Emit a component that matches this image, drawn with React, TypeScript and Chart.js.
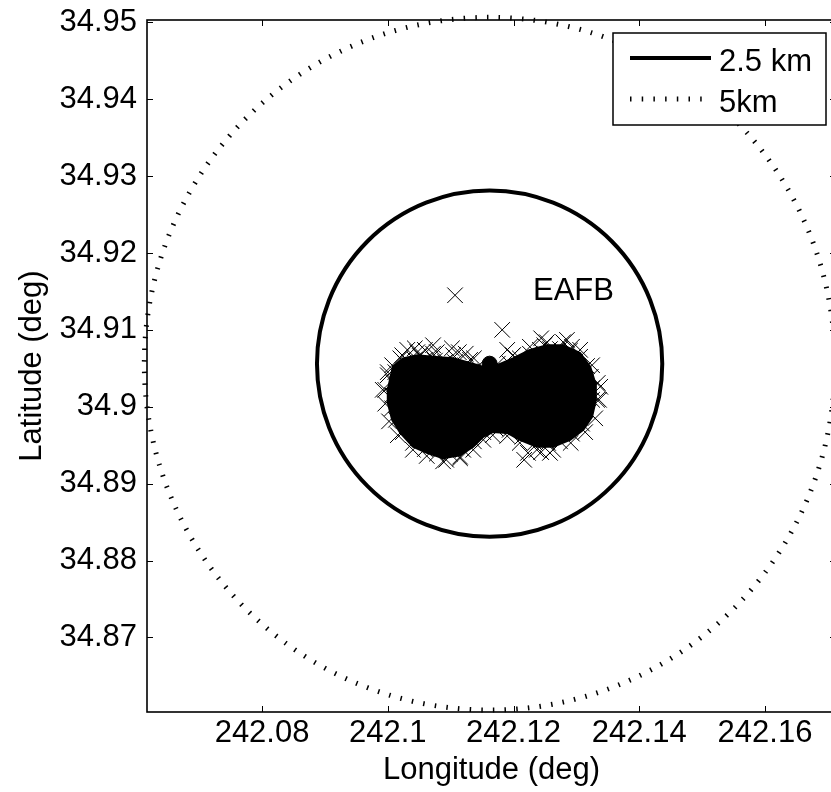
import React, { useEffect, useRef } from 'react';
import { Chart, registerables } from 'chart.js';

Chart.register(...registerables);

const FONT_FAMILY = "'Liberation Sans', Arial, Helvetica, sans-serif";
const FONT_SIZE = 31;

// Edwards AFB reference site and its label
const EAFB_LON = 242.1162;
const EAFB_LAT = 34.9056;
const EAFB_TEXT = 'EAFB';
const EAFB_LABEL_LON = 242.1231;
const EAFB_LABEL_LAT = 34.9150;

// Range rings around the site
const RING_KM = [2.5, 5];
const RING_LABELS = ['2.5 km', '5km'];
const KM_PER_DEG = 111.0;

// Axis limits
const LON_MIN = 242.0617;
const LON_MAX = 242.1713;
const LAT_MIN = 34.8603;
const LAT_MAX = 34.9503;

const LON_TICKS = [242.08, 242.1, 242.12, 242.14, 242.16];
const LON_TICK_LABELS = ['242.08', '242.1', '242.12', '242.14', '242.16'];
const LAT_TICKS = [34.87, 34.88, 34.89, 34.9, 34.91, 34.92, 34.93, 34.94, 34.95];
const LAT_TICK_LABELS = ['34.87', '34.88', '34.89', '34.9', '34.91', '34.92', '34.93', '34.94', '34.95'];

// Outline of the dense core of position fixes (two overlapping lobes)
const CORE_LON = [
  242.1000, 242.1008, 242.1024, 242.1047, 242.1072, 242.1104, 242.1131, 242.1147, 242.1158,
  242.1174, 242.1199, 242.1226, 242.1253, 242.1279, 242.1306, 242.1322, 242.1330, 242.1331,
  242.1325, 242.1311, 242.1290, 242.1263, 242.1237, 242.1210, 242.1190, 242.1167, 242.1152,
  242.1136, 242.1115, 242.1088, 242.1062, 242.1040, 242.1020, 242.1007, 242.1000, 242.1000,
];
const CORE_LAT = [
  34.9022, 34.9052, 34.9063, 34.9067, 34.9065, 34.9063, 34.9057, 34.9053, 34.9049,
  34.9054, 34.9063, 34.9074, 34.9080, 34.9080, 34.9070, 34.9052, 34.9031, 34.9009,
  34.8987, 34.8970, 34.8957, 34.8948, 34.8948, 34.8957, 34.8966, 34.8967, 34.8961,
  34.8948, 34.8937, 34.8933, 34.8940, 34.8948, 34.8966, 34.8983, 34.9005, 34.9022,
];

// Individual fixes around the edge of the core, plus the scattered outliers
const FIX_LON = [
  242.1012, 242.1027, 242.1043, 242.1059, 242.1075, 242.1091, 242.1107, 242.1123, 242.1139,
  242.1155, 242.1179, 242.1194, 242.1210, 242.1226, 242.1242, 242.1258, 242.1274, 242.1290,
  242.1306, 242.1317, 242.1323, 242.1325, 242.1325, 242.1320, 242.1309, 242.1293, 242.1274,
  242.1255, 242.1234, 242.1214, 242.1194, 242.1171, 242.1152, 242.1137, 242.1120, 242.1099,
  242.1078, 242.1059, 242.1040, 242.1024, 242.1013, 242.1007, 242.1007, 242.1008,
  242.1007, 242.1023, 242.1047, 242.1072, 242.1104, 242.1131, 242.1175, 242.1199, 242.1226,
  242.1253, 242.1279, 242.1306, 242.1325, 242.1334, 242.1336, 242.1330, 242.1314, 242.1291,
  242.1263, 242.1237, 242.1210, 242.1190, 242.1167, 242.1152, 242.1136, 242.1115, 242.1088,
  242.1062, 242.1040, 242.1016, 242.1002, 242.0996, 242.0996, 242.1000,
  242.1031, 242.1043, 242.1059, 242.1072, 242.1078, 242.1102, 242.1113, 242.1124, 242.1137,
  242.1051, 242.1020, 242.0992, 242.1190, 242.1199, 242.1244, 242.1249, 242.1285, 242.1293,
  242.1338, 242.1333, 242.1093, 242.1115, 242.1217, 242.1223, 242.1244, 242.1258, 242.1000,
  242.1107, 242.1182,
];
const FIX_LAT = [
  34.9045, 34.9057, 34.9061, 34.9061, 34.9060, 34.9058, 34.9058, 34.9054, 34.9049,
  34.9046, 34.9048, 34.9056, 34.9063, 34.9069, 34.9074, 34.9075, 34.9075, 34.9073,
  34.9065, 34.9053, 34.9039, 34.9024, 34.9009, 34.8993, 34.8978, 34.8965, 34.8955,
  34.8953, 34.8953, 34.8961, 34.8970, 34.8972, 34.8967, 34.8955, 34.8944, 34.8939,
  34.8939, 34.8945, 34.8953, 34.8967, 34.8983, 34.8998, 34.9015, 34.9032,
  34.9054, 34.9067, 34.9071, 34.9069, 34.9067, 34.9061, 34.9056, 34.9067, 34.9078,
  34.9084, 34.9084, 34.9074, 34.9054, 34.9031, 34.9009, 34.8985, 34.8967, 34.8953,
  34.8944, 34.8944, 34.8953, 34.8962, 34.8963, 34.8957, 34.8944, 34.8933, 34.8929,
  34.8936, 34.8944, 34.8963, 34.8981, 34.9004, 34.9022, 34.9041,
  34.9074, 34.9076, 34.9074, 34.9080, 34.9071, 34.9076, 34.9071, 34.9069, 34.9063,
  34.9066, 34.9063, 34.9022, 34.9074, 34.9067, 34.9089, 34.9080, 34.9087, 34.9078,
  34.9026, 34.9009, 34.8931, 34.8935, 34.8931, 34.8940, 34.8941, 34.8940, 34.9045,
  34.9145, 34.9100,
];

// Stroke styles for the two rings (solid, dotted)
const RING_STYLES = [
  { width: 4, dash: [] as number[] },
  { width: 5, dash: [1.5, 10.2] },
];

const font = (size = FONT_SIZE) => ({ family: FONT_FAMILY, size });

function ringRadii(chart: any, km: number) {
  const { x, y } = chart.scales;
  const dLat = km / KM_PER_DEG;
  const dLon = dLat / Math.cos((EAFB_LAT * Math.PI) / 180);
  const cx = x.getPixelForValue(EAFB_LON);
  const cy = y.getPixelForValue(EAFB_LAT);
  return {
    cx,
    cy,
    rx: Math.abs(x.getPixelForValue(EAFB_LON + dLon) - cx),
    ry: Math.abs(y.getPixelForValue(EAFB_LAT + dLat) - cy),
  };
}

const mapPlugin = {
  id: 'mapDecor',
  beforeDatasetsDraw(chart: any) {
    const { ctx } = chart;
    RING_KM.forEach((km, i) => {
      const { cx, cy, rx, ry } = ringRadii(chart, km);
      ctx.save();
      ctx.beginPath();
      ctx.ellipse(cx, cy, rx, ry, 0, 0, Math.PI * 2);
      ctx.lineWidth = RING_STYLES[i].width;
      ctx.setLineDash(RING_STYLES[i].dash);
      ctx.lineCap = 'butt';
      ctx.strokeStyle = '#000';
      ctx.stroke();
      ctx.restore();
    });
  },
  afterDatasetsDraw(chart: any) {
    const { ctx, scales } = chart;
    ctx.save();
    ctx.fillStyle = '#000';
    ctx.font = `${FONT_SIZE}px ${FONT_FAMILY}`;
    ctx.textAlign = 'left';
    ctx.textBaseline = 'middle';
    ctx.fillText(
      EAFB_TEXT,
      scales.x.getPixelForValue(EAFB_LABEL_LON),
      scales.y.getPixelForValue(EAFB_LABEL_LAT)
    );
    ctx.restore();
  },
  afterDraw(chart: any) {
    const { ctx, chartArea: a, scales } = chart;
    const tick = 6;
    ctx.save();
    ctx.strokeStyle = '#000';
    // axes box
    ctx.lineWidth = 1.6;
    ctx.strokeRect(a.left, a.top, a.right - a.left, a.bottom - a.top);
    // inward ticks on all four sides
    ctx.lineWidth = 1;
    ctx.beginPath();
    LON_TICKS.forEach((v) => {
      const px = Math.round(scales.x.getPixelForValue(v)) + 0.5;
      ctx.moveTo(px, a.bottom);
      ctx.lineTo(px, a.bottom - tick);
      ctx.moveTo(px, a.top);
      ctx.lineTo(px, a.top + tick);
    });
    LAT_TICKS.forEach((v) => {
      const py = Math.round(scales.y.getPixelForValue(v)) + 0.5;
      ctx.moveTo(a.left, py);
      ctx.lineTo(a.left + tick, py);
      ctx.moveTo(a.right, py);
      ctx.lineTo(a.right - tick, py);
    });
    ctx.stroke();

    // legend
    const boxRight = a.right - 10;
    const boxTop = a.top + 13;
    const boxW = 213;
    const boxH = 92;
    const boxLeft = boxRight - boxW;
    ctx.fillStyle = '#fff';
    ctx.fillRect(boxLeft, boxTop, boxW, boxH);
    ctx.lineWidth = 1.5;
    ctx.strokeRect(boxLeft, boxTop, boxW, boxH);
    const rows = [boxTop + 25, boxTop + 66];
    RING_LABELS.forEach((label, i) => {
      const yRow = rows[i];
      ctx.beginPath();
      ctx.moveTo(boxLeft + 17, yRow);
      ctx.lineTo(boxLeft + 98, yRow);
      ctx.lineWidth = RING_STYLES[i].width;
      ctx.setLineDash(RING_STYLES[i].dash);
      ctx.lineCap = 'butt';
      ctx.stroke();
      ctx.setLineDash([]);
      ctx.fillStyle = '#000';
      ctx.font = `${FONT_SIZE}px ${FONT_FAMILY}`;
      ctx.textAlign = 'left';
      ctx.textBaseline = 'middle';
      ctx.fillText(label, boxLeft + 106, yRow + 4);
    });
    ctx.restore();
  },
};

export default function App() {
  const ref = useRef<HTMLCanvasElement>(null);

  useEffect(() => {
    const canvas = ref.current;
    if (!canvas) return;

    const core = CORE_LON.map((x, i) => ({ x, y: CORE_LAT[i] }));
    const fixes = FIX_LON.map((x, i) => ({ x, y: FIX_LAT[i] }));

    const chart = new Chart(canvas, {
      type: 'scatter',
      data: {
        datasets: [
          {
            label: 'site',
            data: [{ x: EAFB_LON, y: EAFB_LAT }],
            pointStyle: 'circle',
            pointRadius: 7.5,
            pointHoverRadius: 7.5,
            backgroundColor: '#000',
            borderColor: '#000',
            order: 0,
          },
          {
            label: 'fixes',
            data: fixes,
            pointStyle: 'crossRot',
            pointRadius: 11,
            pointHoverRadius: 11,
            pointBorderWidth: 1,
            borderColor: '#000',
            backgroundColor: '#000',
            showLine: false,
            order: 1,
          },
          {
            label: 'core',
            data: core,
            showLine: true,
            fill: 'shape',
            tension: 0,
            pointRadius: 0,
            pointHoverRadius: 0,
            borderWidth: 2,
            borderColor: '#000',
            backgroundColor: '#000',
            order: 2,
          },
        ],
      },
      options: {
        responsive: false,
        animation: false,
        events: [],
        layout: { autoPadding: false, padding: { top: 20, right: 0, bottom: 0, left: 0 } },
        plugins: {
          legend: { display: false },
          tooltip: { enabled: false },
          title: { display: false },
        },
        scales: {
          x: {
            type: 'linear',
            position: 'bottom',
            min: LON_MIN,
            max: LON_MAX,
            afterBuildTicks: (axis: any) => {
              axis.ticks = LON_TICKS.map((value) => ({ value }));
            },
            afterFit: (axis: any) => {
              axis.height = 80;
              axis.paddingLeft = 0;
              axis.paddingRight = 0;
            },
            grid: { display: false, drawTicks: false },
            border: { display: false },
            ticks: {
              autoSkip: false,
              maxRotation: 0,
              minRotation: 0,
              padding: 3,
              color: '#000',
              font: font(),
              callback: (_v: any, i: number) => LON_TICK_LABELS[i],
            },
            title: {
              display: true,
              text: 'Longitude (deg)',
              color: '#000',
              font: font(),
              padding: { top: 0, bottom: 3 },
            },
          },
          y: {
            type: 'linear',
            position: 'left',
            min: LAT_MIN,
            max: LAT_MAX,
            afterBuildTicks: (axis: any) => {
              axis.ticks = LAT_TICKS.map((value) => ({ value }));
            },
            afterFit: (axis: any) => {
              axis.width = 147;
              axis.paddingTop = 0;
              axis.paddingBottom = 0;
            },
            grid: { display: false, drawTicks: false },
            border: { display: false },
            ticks: {
              autoSkip: false,
              padding: 10,
              color: '#000',
              font: font(),
              callback: (_v: any, i: number) => LAT_TICK_LABELS[i],
            },
            title: {
              display: true,
              text: 'Latitude (deg)',
              color: '#000',
              font: font(),
              padding: { top: 14, bottom: 0 },
            },
          },
        },
      },
      plugins: [mapPlugin],
    } as any);

    return () => chart.destroy();
  }, []);

  return (
    <div
      style={{
        position: 'fixed',
        left: 0,
        top: 0,
        width: 831,
        height: 792,
        overflow: 'hidden',
        background: '#fff',
      }}
    >
      <canvas
        ref={ref}
        width={836}
        height={792}
        style={{ display: 'block', width: 836, height: 792 }}
      />
    </div>
  );
}
